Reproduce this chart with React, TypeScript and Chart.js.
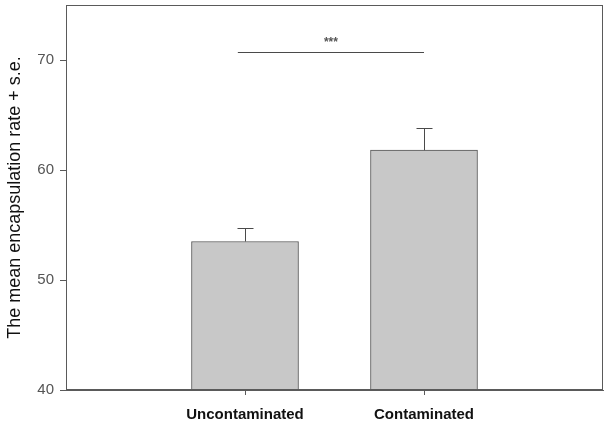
import React, { useEffect, useRef } from "react";
import { Chart, registerables } from "chart.js";

Chart.register(...registerables);

const categories = ["", "Uncontaminated", "Contaminated", ""];
const means = [null, 53.5, 61.8, null];
const stdErrors = [null, 1.2, 2.0, null];
const yTicks = [40, 50, 60, 70];
const yTitle = "The mean encapsulation rate + s.e.";
const sigLabel = "***";
const sigLevel = 70.75;
const sigFrom = 0.96;
const sigTo = 2.0;

const AXIS = "#5a5a5a";

const decorPlugin = {
  id: "decor",
  afterDatasetsDraw(chart: any) {
    const { ctx, chartArea, scales } = chart;
    const x = scales.x;
    const y = scales.y;
    ctx.save();
    // box
    ctx.strokeStyle = AXIS;
    ctx.lineWidth = 1;
    ctx.strokeRect(
      Math.round(chartArea.left) + 0.5,
      Math.round(chartArea.top) + 0.5,
      Math.round(chartArea.right - chartArea.left) - 1,
      Math.round(chartArea.bottom - chartArea.top) - 1
    );
    // error bars
    ctx.strokeStyle = "#4a4a4a";
    means.forEach((m, i) => {
      const e = stdErrors[i];
      if (m == null || e == null) return;
      const px = Math.round(x.getPixelForValue(i)) + 0.5;
      const y0 = y.getPixelForValue(m);
      const y1 = Math.round(y.getPixelForValue(m + e)) + 0.5;
      ctx.beginPath();
      ctx.moveTo(px, y0);
      ctx.lineTo(px, y1);
      ctx.moveTo(px - 8, y1);
      ctx.lineTo(px + 8, y1);
      ctx.stroke();
    });
    // significance
    const sx0 = x.getPixelForValue(sigFrom);
    const sx1 = x.getPixelForValue(sigTo);
    const sy = Math.round(y.getPixelForValue(sigLevel)) + 0.5;
    ctx.strokeStyle = "#4a4a4a";
    ctx.beginPath();
    ctx.moveTo(sx0, sy);
    ctx.lineTo(sx1, sy);
    ctx.stroke();
    ctx.fillStyle = "#555";
    ctx.font = "bold 12px Arial, 'Liberation Sans', sans-serif";
    ctx.textAlign = "center";
    ctx.textBaseline = "middle";
    ctx.fillText(sigLabel, (sx0 + sx1) / 2, sy - 10);
    ctx.restore();
  },
};

export default function App() {
  const ref = useRef<HTMLCanvasElement | null>(null);
  useEffect(() => {
    if (!ref.current) return;
    const chart = new Chart(ref.current, {
      type: "bar",
      data: {
        labels: categories,
        datasets: [
          {
            data: means as any,
            backgroundColor: "#c8c8c8",
            borderColor: "#555",
            borderWidth: 1,
            barThickness: 107,
          },
        ],
      },
      options: {
        animation: false,
        responsive: false,
        maintainAspectRatio: false,
        layout: { padding: { top: 5, right: 6, left: 0, bottom: 0 } },
        plugins: { legend: { display: false }, tooltip: { enabled: false } },
        scales: {
          x: {
            offset: false,
            grid: {
              display: true,
              offset: false,
              drawOnChartArea: false,
              drawTicks: true,
              tickLength: 5,
              tickColor: (c: any) => (c.index === 1 || c.index === 2 ? AXIS : "rgba(0,0,0,0)"),
            },
            border: { display: true, color: AXIS },
            ticks: {
              color: "#111",
              padding: 11,
              maxRotation: 0,
              autoSkip: false,
              font: { family: "Arial, 'Liberation Sans', sans-serif", size: 15, weight: "bold" },
            },
            afterFit: (s: any) => {
              s.height = 34;
              s.paddingLeft = 0;
              s.paddingRight = 0;
            },
          },
          y: {
            min: 40,
            max: 75,
            afterBuildTicks: (s: any) => {
              s.ticks = yTicks.map((v) => ({ value: v }));
            },
            grid: {
              display: true,
              drawOnChartArea: false,
              drawTicks: true,
              tickLength: 6,
              tickColor: AXIS,
            },
            border: { display: true, color: AXIS },
            ticks: {
              color: "#555",
              padding: 6,
              font: { family: "Arial, 'Liberation Sans', sans-serif", size: 15 },
            },
            title: {
              display: true,
              text: yTitle,
              color: "#111",
              padding: { top: 4, bottom: 4 },
              font: { family: "Arial, 'Liberation Sans', sans-serif", size: 18 },
            },
            afterFit: (s: any) => {
              s.width = 66;
              s.paddingTop = 0;
              s.paddingBottom = 0;
            },
          },
        },
      },
      plugins: [decorPlugin],
    });
    return () => chart.destroy();
  }, []);
  return (
    <div style={{ position: "fixed", left: 0, top: 0, width: 609, height: 424, background: "#fff" }}>
      <canvas ref={ref} width={609} height={424} />
    </div>
  );
}
